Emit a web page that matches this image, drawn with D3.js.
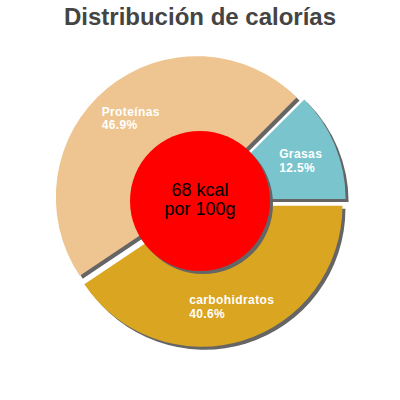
<!DOCTYPE html>
<html>
<head>
<meta charset="utf-8">
<script src="https://cdn.jsdelivr.net/npm/d3@7"></script>
<style>
  html, body { margin: 0; padding: 0; background: #fff; }
  svg { display: block; }
</style>
</head>
<body>
<svg id="chart" width="400" height="400"></svg>
<script>
// ---- data ----
const title = "Distribución de calorías";
const categories = ["Grasas", "carbohidratos", "Proteínas"];
const values = [12.5, 40.6, 46.9];
const percentLabels = ["12.5%", "40.6%", "46.9%"];
const sliceColors = ["#7AC5CD", "#DAA520", "#EEC591"];
const centerLines = ["68 kcal", "por 100g"];

// ---- layout / style ----
const W = 400, H = 400;
const cx = 200, cy = 201;
const R = 141;
const explode = 5;
const shadowDx = 3, shadowDy = 3;
const shadowColor = "#656565";
const innerR = 70;
const labelR = 104;
const labelFont = 12;
const labelLineGap = 13.5;

const svg = d3.select("#chart");

svg.append("text")
  .attr("x", W / 2).attr("y", 25)
  .attr("text-anchor", "middle")
  .attr("font-family", "'Liberation Sans', Arial, sans-serif")
  .attr("font-weight", "bold")
  .attr("font-size", 24)
  .attr("fill", "#444444")
  .text(title);

const data = categories.map((c, i) => ({ name: c, value: values[i], pct: percentLabels[i], color: sliceColors[i] }));

const pie = d3.pie()
  .value(d => d.value)
  .sort(null)
  .startAngle(Math.PI / 4)
  .endAngle(Math.PI / 4 + 2 * Math.PI);

const arcs = pie(data);
const arc = d3.arc().innerRadius(0).outerRadius(R);

function offset(a) {
  const m = (a.startAngle + a.endAngle) / 2;
  return [explode * Math.sin(m), -explode * Math.cos(m)];
}

const g = svg.append("g").attr("transform", `translate(${cx},${cy})`);

// shadows
g.selectAll("path.shadow")
  .data(arcs)
  .join("path")
  .attr("class", "shadow")
  .attr("d", arc)
  .attr("fill", shadowColor)
  .attr("transform", d => { const o = offset(d); return `translate(${o[0] + shadowDx},${o[1] + shadowDy})`; });

// slices
g.selectAll("path.slice")
  .data(arcs)
  .join("path")
  .attr("class", "slice")
  .attr("d", arc)
  .attr("fill", d => d.data.color)
  .attr("transform", d => { const o = offset(d); return `translate(${o[0]},${o[1]})`; });

// labels
arcs.forEach(a => {
  const o = offset(a);
  const m = (a.startAngle + a.endAngle) / 2;
  const px = o[0] + labelR * Math.sin(m);
  const py = o[1] - labelR * Math.cos(m);
  const t = g.append("text")
    .attr("font-family", "'Liberation Sans', Arial, sans-serif")
    .attr("font-weight", "bold")
    .attr("font-size", labelFont)
    .attr("letter-spacing", 0.4)
    .attr("fill", "#ffffff");
  const l1 = t.append("tspan").attr("y", py - 1).text(a.data.name);
  const w = l1.node().getComputedTextLength();
  const x0 = px - w / 2;
  l1.attr("x", x0);
  t.append("tspan").attr("x", x0).attr("y", py - 1 + labelLineGap).text(a.data.pct);
});

// center circle
g.append("circle")
  .attr("cx", shadowDx).attr("cy", shadowDy).attr("r", innerR)
  .attr("fill", shadowColor);
g.append("circle")
  .attr("cx", 0).attr("cy", 0).attr("r", innerR)
  .attr("fill", "#FF0000");

g.append("text")
  .attr("text-anchor", "middle")
  .attr("font-family", "'Liberation Sans', Arial, sans-serif")
  .attr("font-size", 18)
  .attr("fill", "#000000")
  .selectAll("tspan")
  .data(centerLines)
  .join("tspan")
  .attr("x", 0)
  .attr("y", (d, i) => -5 + i * 19)
  .text(d => d);
</script>
</body>
</html>
